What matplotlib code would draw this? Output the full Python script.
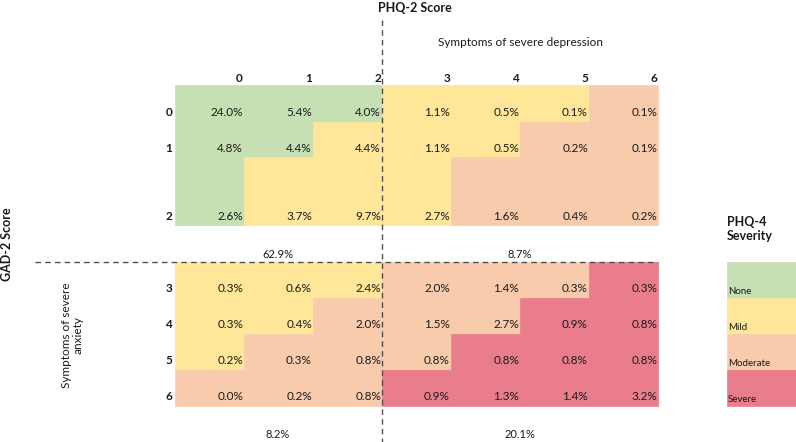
import matplotlib.pyplot as plt
from matplotlib.patches import Rectangle

plt.rcParams['font.family'] = ['Lato', 'DejaVu Sans']

# PHQ-2 score (columns) and GAD-2 score (rows)
phq_scores = [0, 1, 2, 3, 4, 5, 6]
gad_scores = [0, 1, 2, 3, 4, 5, 6]

# percentage of respondents in each score combination
pct = [
    [24.0, 5.4, 4.0, 1.1, 0.5, 0.1, 0.1],
    [4.8, 4.4, 4.4, 1.1, 0.5, 0.2, 0.1],
    [2.6, 3.7, 9.7, 2.7, 1.6, 0.4, 0.2],
    [0.3, 0.6, 2.4, 2.0, 1.4, 0.3, 0.3],
    [0.3, 0.4, 2.0, 1.5, 2.7, 0.9, 0.8],
    [0.2, 0.3, 0.8, 0.8, 0.8, 0.8, 0.8],
    [0.0, 0.2, 0.8, 0.9, 1.3, 1.4, 3.2],
]

# quadrant totals: top-left, top-right, bottom-left, bottom-right
quad_totals = [62.9, 8.7, 8.2, 20.1]

severity_labels = ["None", "Mild", "Moderate", "Severe"]
severity_colors = ["#C6E0B4", "#FFE699", "#F8CBAD", "#E97D8B"]


def severity(total):
    if total <= 2:
        return 0
    if total <= 5:
        return 1
    if total <= 8:
        return 2
    return 3


# layout in pixels (axes spans the whole figure)
col_edges = [175, 244, 313, 382, 451, 520, 589, 658]
row_edges = [(85, 122), (122, 157), (157, 225),
             (262, 298), (298, 334), (334, 370), (370, 406)]

fig = plt.figure(figsize=(7.96, 4.42), dpi=100)
ax = fig.add_axes([0, 0, 1, 1])
ax.set_xlim(0, 796)
ax.set_ylim(442, 0)
ax.axis("off")

txt = "#1a1a1a"

for r, g in enumerate(gad_scores):
    top, bot = row_edges[r]
    for c, p in enumerate(phq_scores):
        left, right = col_edges[c], col_edges[c + 1]
        col = severity_colors[severity(g + p)]
        ax.add_patch(Rectangle((left, top), right - left, bot - top,
                               facecolor=col, edgecolor=col, lw=0.5))
        ax.text(right - 1, bot - 9, f"{pct[r][c]:.1f}%", ha="right",
                va="center", fontsize=8.5, color=txt)
    ax.text(col_edges[0] - 3, bot - 9, str(g), ha="right", va="center",
            fontsize=8.5, fontweight="bold", color=txt)

for c, p in enumerate(phq_scores):
    ax.text(col_edges[c + 1] - 1, 78, str(p), ha="right", va="center",
            fontsize=8.5, fontweight="bold", color=txt)

# dividing lines
ax.plot([382, 382], [20, 442], ls=(0, (4, 3)), color="#505050", lw=1)
ax.plot([35, 658], [262, 262], ls=(0, (4, 3)), color="#505050", lw=1)

# quadrant totals
ax.text(278, 255, f"{quad_totals[0]}%", ha="center", va="center", fontsize=8, color=txt)
ax.text(520, 255, f"{quad_totals[1]}%", ha="center", va="center", fontsize=8, color=txt)
ax.text(278, 435, f"{quad_totals[2]}%", ha="center", va="center", fontsize=8, color=txt)
ax.text(520, 435, f"{quad_totals[3]}%", ha="center", va="center", fontsize=8, color=txt)

# titles
ax.text(378, 8, "PHQ-2 Score", ha="left", va="center", fontsize=9,
        fontweight="bold", color=txt)
ax.text(520, 43, "Symptoms of severe depression", ha="center", va="center",
        fontsize=8.5, color=txt)
ax.text(7, 244, "GAD-2 Score", ha="center", va="center", rotation=90,
        fontsize=9, fontweight="bold", color=txt)
ax.text(72, 335, "Symptoms of severe\nanxiety", ha="center", va="center",
        rotation=90, fontsize=8.5, color=txt, linespacing=1.05)

# severity legend
ax.text(727, 229, "PHQ-4\nSeverity", ha="left", va="center", fontsize=9,
        fontweight="bold", color=txt, linespacing=1.3)
for i, (lab, col) in enumerate(zip(severity_labels, severity_colors)):
    top, bot = row_edges[3 + i]
    ax.add_patch(Rectangle((727, top), 796 - 727, bot - top,
                           facecolor=col, edgecolor=col, lw=0.5))
    ax.text(728, bot - 6, lab, ha="left", va="center", fontsize=7, color=txt)

fig.savefig("out.png", dpi=100)
